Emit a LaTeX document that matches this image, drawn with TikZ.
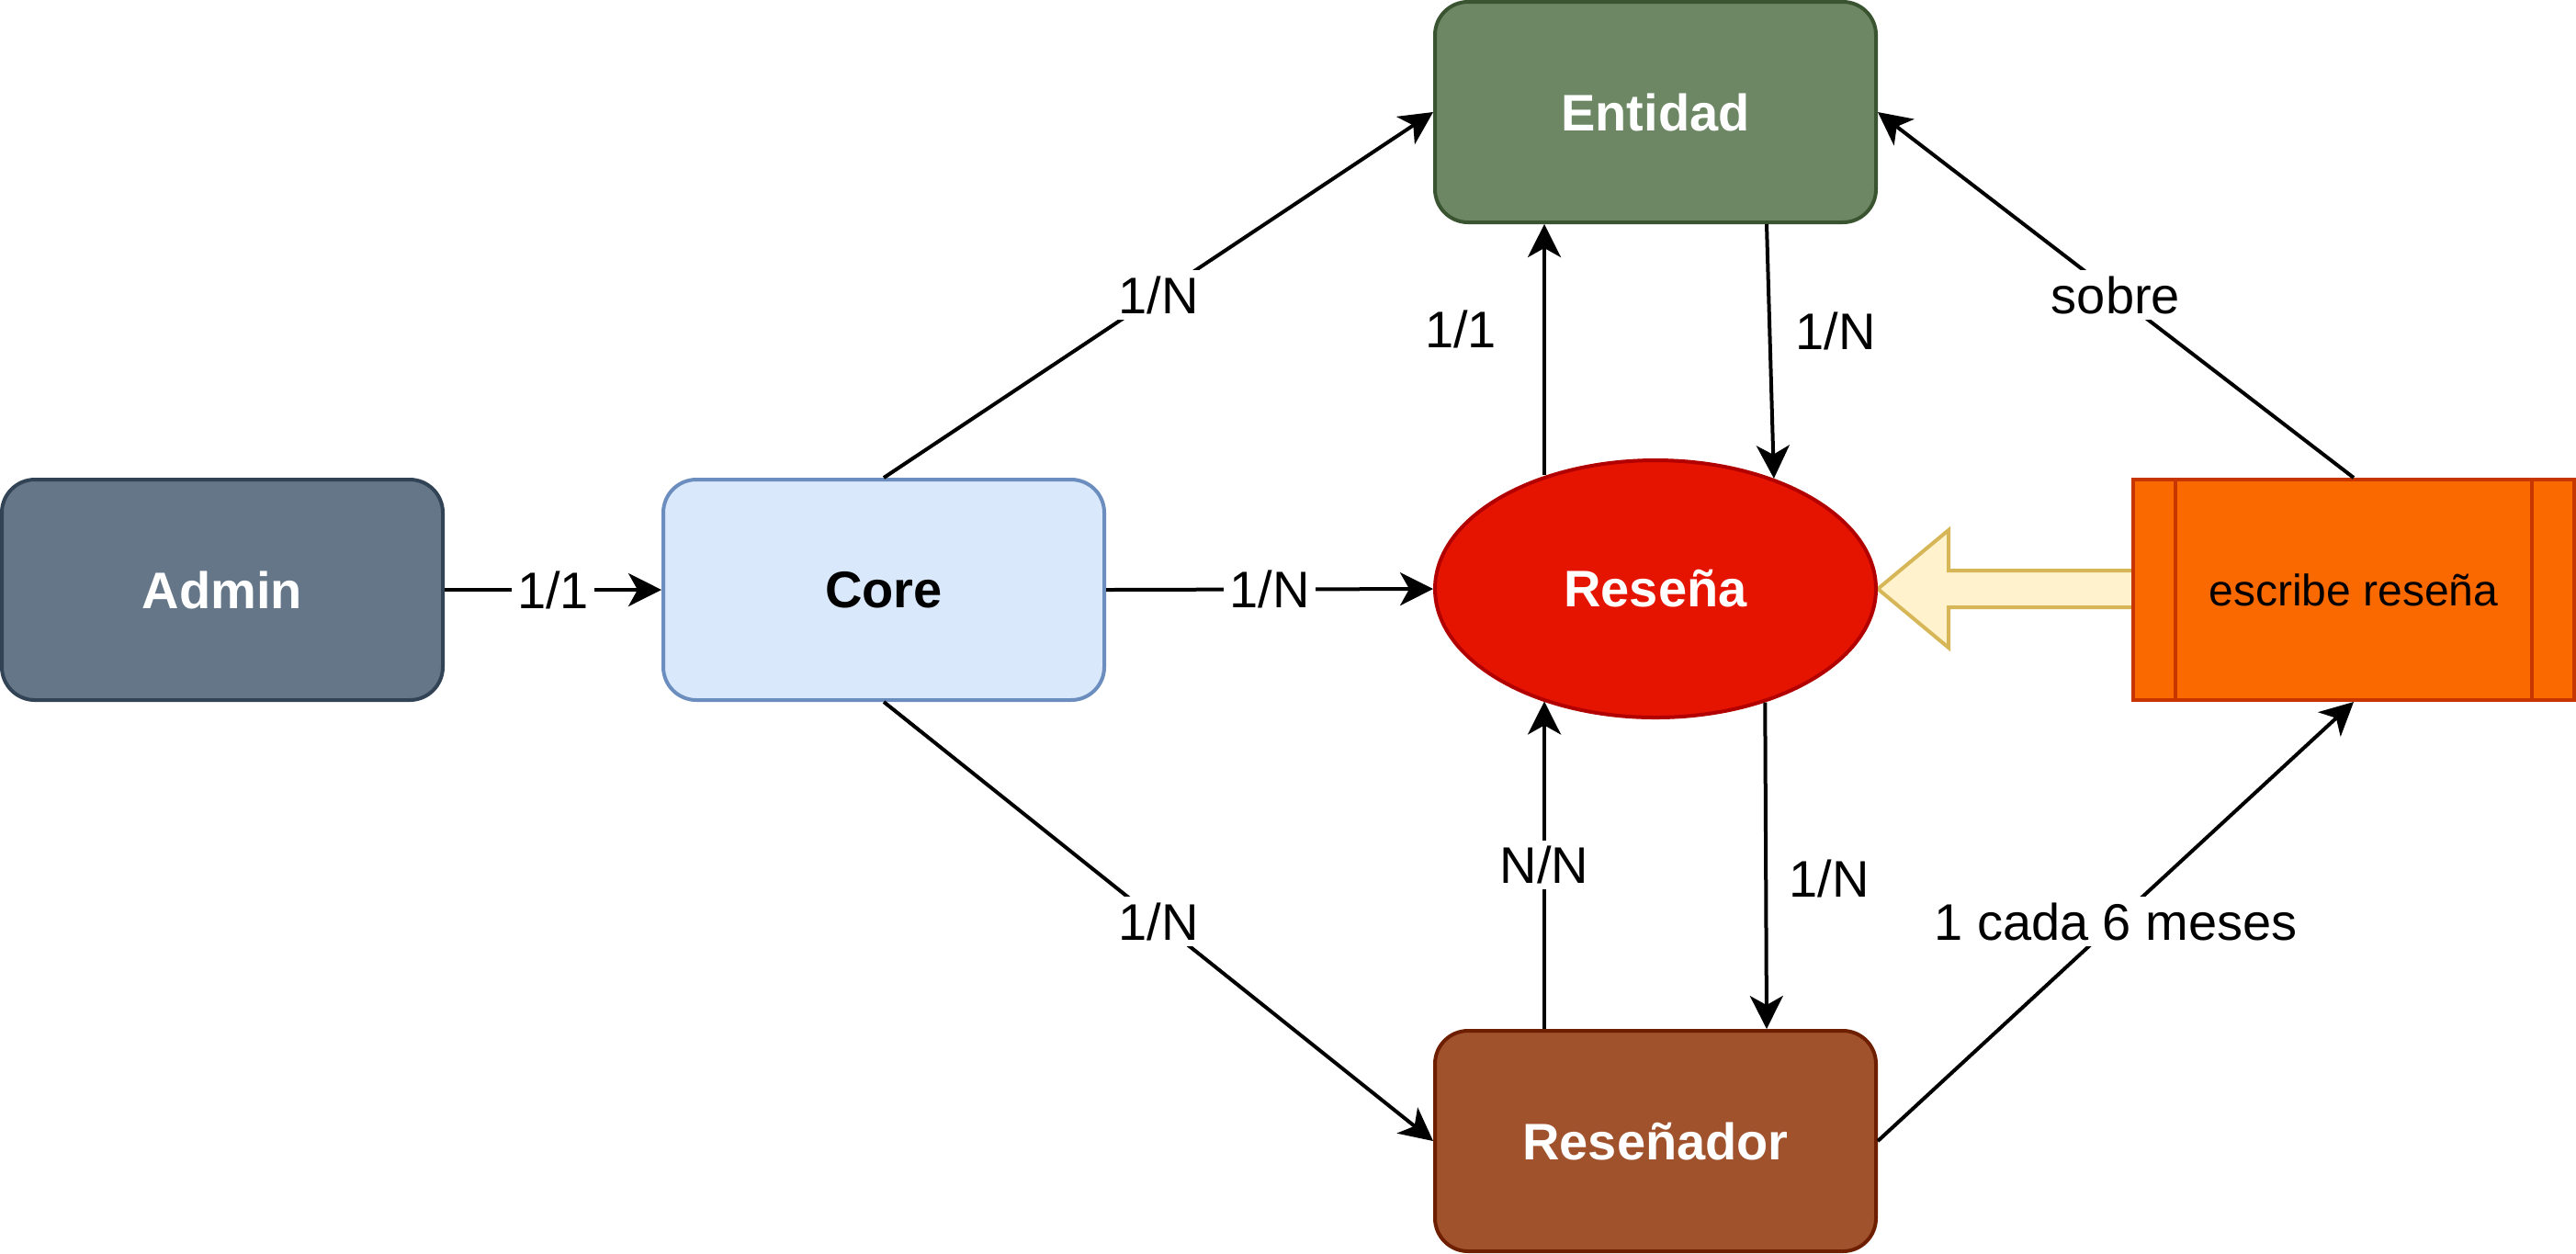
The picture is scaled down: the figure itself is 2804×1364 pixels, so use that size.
\documentclass[tikz,border=0pt]{standalone}
\usepackage{fontspec}
\setmainfont{Liberation Sans}
\usetikzlibrary{arrows.meta,calc,backgrounds,shapes.geometric}
\definecolor{admF}{HTML}{647687}
\definecolor{admD}{HTML}{314354}
\definecolor{coreF}{HTML}{DAE8FC}
\definecolor{coreD}{HTML}{6C8EBF}
\definecolor{entF}{HTML}{6D8764}
\definecolor{entD}{HTML}{3A5431}
\definecolor{resF}{HTML}{E51400}
\definecolor{resD}{HTML}{B20000}
\definecolor{rsrF}{HTML}{A0522D}
\definecolor{rsrD}{HTML}{6D1F00}
\definecolor{escF}{HTML}{FA6800}
\definecolor{escD}{HTML}{C73500}
\definecolor{barF}{HTML}{FFF2CC}
\definecolor{barD}{HTML}{D6B656}
\begin{document}
\begin{tikzpicture}[x=0.25pt,y=-0.25pt,
  box/.style={rectangle, rounded corners=9pt, minimum width=120pt, minimum height=60pt,
    line width=1pt, inner sep=0pt, font=\bfseries\fontsize{14}{17}\selectfont},
  ovalbox/.style={ellipse, minimum width=120pt, minimum height=70pt, line width=1pt,
    inner sep=0pt, font=\bfseries\fontsize{14}{17}\selectfont},
  procbox/.style={rectangle, minimum width=120pt, minimum height=60pt, line width=1pt,
    inner sep=0pt, fill=escF, draw=escD, font=\fontsize{12}{14}\selectfont},
  procline/.style={draw=escD, line width=1pt},
  arr/.style={draw=black, line width=1pt, -{Stealth[length=9pt,width=9pt,inset=2.5pt]}},
  plain/.style={draw=black, line width=1pt},
  lbl/.style={fill=white, inner sep=1.5pt, font=\fontsize{14}{17}\selectfont},
  sidelbl/.style={inner sep=1.5pt, font=\fontsize{14}{17}\selectfont},
  barr/.style={fill=barF, draw=barD, line width=1pt, line join=miter}]
\useasboundingbox (0,0) rectangle (2804,1364);

\node[box, fill=admF, draw=admD, text=white] (adm) at (242,642) {Admin};
\node[box, fill=coreF, draw=coreD, text=black] (core) at (962,642) {Core};
\node[box, fill=entF, draw=entD, text=white] (ent) at (1802,122) {Entidad};
\node[ovalbox, fill=resF, draw=resD, text=white] (res) at (1802,641) {Reseña};
\node[box, fill=rsrF, draw=rsrD, text=white] (rsr) at (1802,1242) {Reseñador};
\node[procbox] (esc) at (2562,642) {escribe reseña};
\draw[procline] ([xshift=12pt]esc.north west) -- ([xshift=12pt]esc.south west);
\draw[procline] ([xshift=-12pt]esc.north east) -- ([xshift=-12pt]esc.south east);

\begin{scope}[on background layer]
\draw[barr] (res.east) -- ++(77,-64) -- ++(0,44) -- ++(201,0) -- ++(0,40)
  -- ++(-201,0) -- ++(0,44) -- cycle;
\end{scope}

\coordinate (entA) at ($(ent.south west)!0.25!(ent.south east)$);
\coordinate (entB) at ($(ent.south west)!0.75!(ent.south east)$);
\coordinate (rsrA) at ($(rsr.north west)!0.25!(rsr.north east)$);
\coordinate (rsrB) at ($(rsr.north west)!0.75!(rsr.north east)$);

\draw[arr] (adm.east) -- node[lbl, midway] {1/1} (core.west);
\draw[arr] (core.east) -- node[lbl, midway] {1/N} (res.west);
\draw[arr] (core.north) -- node[lbl, midway] {1/N} (ent.west);
\draw[arr] (core.south) -- node[lbl, midway] {1/N} (rsr.west);

\draw[arr] (entA |- res.134.8) -- node[sidelbl, pos=0.58, left=11pt] {1/1} (entA);
\draw[arr] (entB) -- node[sidelbl, pos=0.42, right=5pt] {1/N} (res.43.4);
\draw[arr] (rsrA) -- node[lbl, midway] {N/N} (rsrA |- res.225.2);
\draw[arr] (res.-46.9) -- node[sidelbl, pos=0.54, right=4.3pt] {1/N} (rsrB);

\draw[arr] (rsr.east) -- node[lbl, midway] {1 cada 6 meses} (esc.south);
\draw[arr] (esc.north) -- node[lbl, midway] {sobre} (ent.east);
\end{tikzpicture}
\end{document}
